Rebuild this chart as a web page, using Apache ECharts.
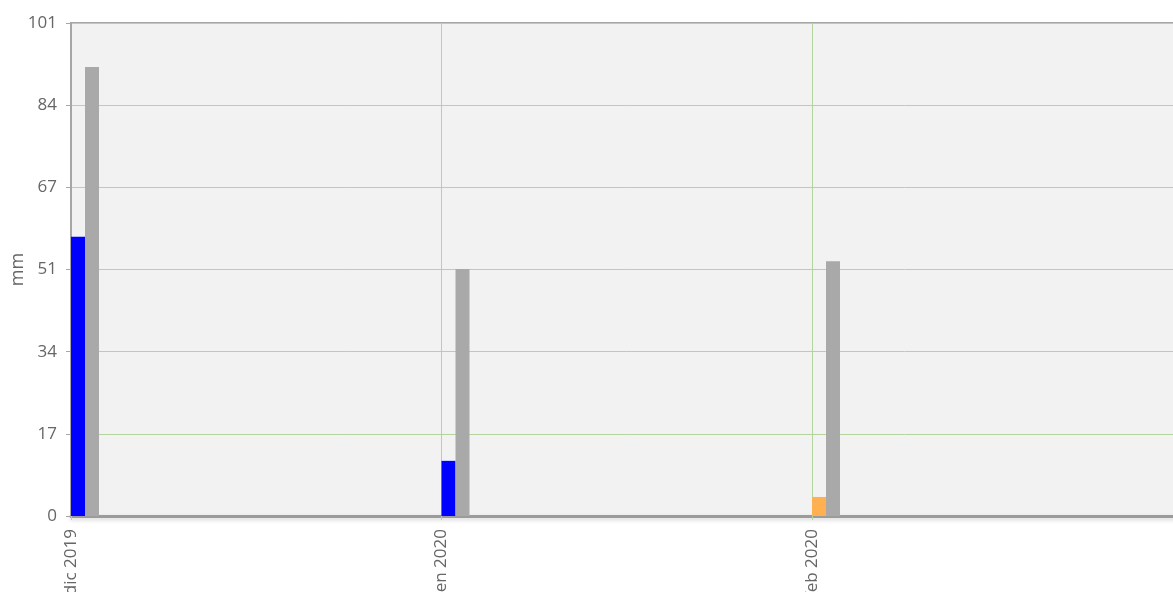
<!DOCTYPE html>
<html>
<head>
<meta charset="utf-8">
<style>
html,body{margin:0;padding:0;width:1173px;height:592px;overflow:hidden;background:#fff;}
#c{width:1300px;height:592px;}
</style>
<script src="https://cdn.jsdelivr.net/npm/echarts@6/dist/echarts.min.js"></script>
</head>
<body>
<div id="c"></div>
<script>
const months = ['dic 2019', 'gen 2020', 'feb 2020', 'mar 2020'];
const rainfall = [57.2, 11.3, null];
const provisional = [null, null, 3.9];
const normal = [92.0, 50.6, 52.2];
const yTicks = [0, 17, 34, 51, 67, 84, 101];

const toPts = arr => arr.map((v, i) => [i, v]);
const yMax = yTicks[yTicks.length - 1];
const font = '"Open Sans", "Liberation Sans", sans-serif';

const chart = echarts.init(document.getElementById('c'), null, {renderer: 'canvas'});
chart.setOption({
  animation: false,
  grid: {
    left: 71, top: 23, bottom: 76, right: 1300 - 71 - 3 * 370.5,
    outerBoundsMode: 'none', containLabel: false,
    show: true, backgroundColor: '#f2f2f2',
    borderColor: '#a6a6a6', borderWidth: 2
  },
  xAxis: {
    type: 'value', min: 0, max: months.length - 1, interval: 1,
    axisLine: {show: true, lineStyle: {color: '#9b9b9b', width: 3, shadowColor: 'rgba(0,0,0,0.18)', shadowBlur: 4, shadowOffsetY: 2}},
    axisTick: {show: true, length: 4, lineStyle: {color: '#b3d49c'}},
    splitLine: {show: true, lineStyle: {color: '#b4d49e', width: 1}},
    axisLabel: {
      rotate: 90, margin: 13, fontSize: 17, color: '#666', fontFamily: font,
      formatter: v => months[Math.round(v)] || ''
    }
  },
  yAxis: {
    type: 'value', min: 0, max: yMax, interval: yMax / (yTicks.length - 1),
    name: 'mm', nameLocation: 'middle', nameGap: 44, nameMoveOverlap: false,
    nameTextStyle: {fontSize: 18, color: '#666', fontFamily: font},
    axisLine: {show: true, lineStyle: {color: '#a6a6a6', width: 2}},
    axisTick: {show: true, length: 5, lineStyle: {color: '#a6a6a6'}},
    splitLine: {show: true, lineStyle: {color: '#b4d49e', width: 1}},
    axisLabel: {
      margin: 14, fontSize: 17, color: '#666', fontFamily: font,
      formatter: v => {
        let best = yTicks[0];
        yTicks.forEach(t => { if (Math.abs(t - v) < Math.abs(best - v)) best = t; });
        return String(best);
      }
    }
  },
  series: [
    {type: 'bar', name: 'pad1', data: [], barWidth: 14, barGap: '0%', silent: true},
    {type: 'bar', name: 'pad2', data: [], barWidth: 14, barGap: '0%', silent: true},
    {type: 'bar', name: 'rainfall', stack: 'obs', data: toPts(rainfall), barWidth: 14, barGap: '0%', itemStyle: {color: '#0000ff'}},
    {type: 'bar', name: 'provisional', stack: 'obs', data: toPts(provisional), barWidth: 14, barGap: '0%', itemStyle: {color: '#ffb050'}},
    {type: 'bar', name: 'normal', data: toPts(normal), barWidth: 14, barGap: '0%', itemStyle: {color: '#a9a9a9'}}
  ]
});
</script>
</body>
</html>
